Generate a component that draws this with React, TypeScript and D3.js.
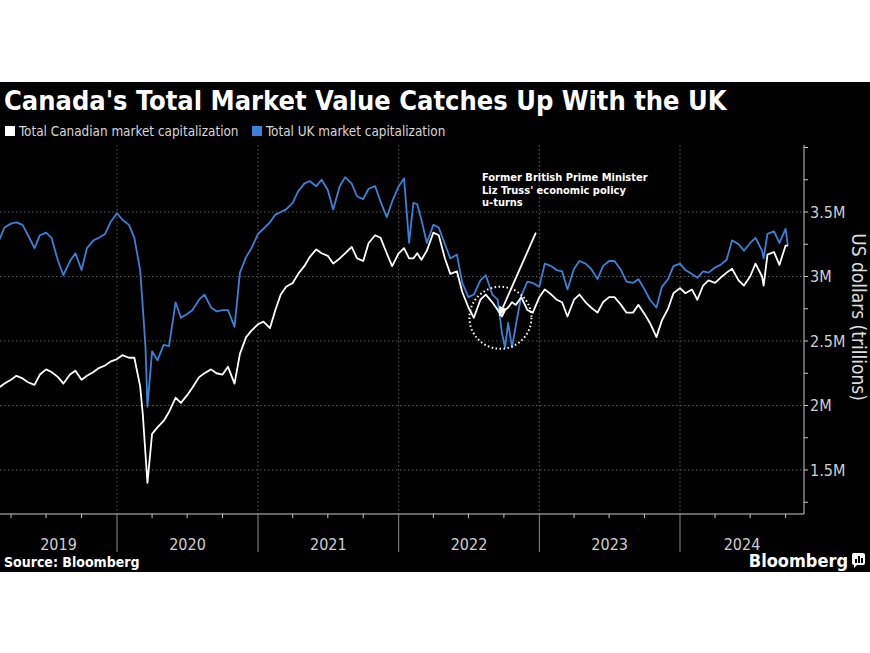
import { useEffect, useRef } from 'react';
import * as d3 from 'd3';

// semi-monthly sample dates, with a few extra days around sharp moves
const dates = [
  '2019-03-01', '2019-03-15', '2019-04-01', '2019-04-15', '2019-05-01', '2019-05-15', '2019-06-01', '2019-06-15',
  '2019-07-01', '2019-07-15', '2019-08-01', '2019-08-15', '2019-09-01', '2019-09-15', '2019-10-01', '2019-10-15',
  '2019-11-01', '2019-11-15', '2019-12-01', '2019-12-15',
  '2020-01-01', '2020-01-15', '2020-02-01', '2020-02-15', '2020-03-01', '2020-03-08', '2020-03-15', '2020-03-20',
  '2020-04-01', '2020-04-15', '2020-05-01', '2020-05-15', '2020-06-01', '2020-06-15', '2020-07-01', '2020-07-15',
  '2020-08-01', '2020-08-15', '2020-09-01', '2020-09-15', '2020-10-01', '2020-10-15', '2020-11-01', '2020-11-15',
  '2020-12-01', '2020-12-15',
  '2021-01-01', '2021-01-15', '2021-02-01', '2021-02-15', '2021-03-01', '2021-03-15', '2021-04-01', '2021-04-15',
  '2021-05-01', '2021-05-15', '2021-06-01', '2021-06-15', '2021-07-01', '2021-07-15', '2021-08-01', '2021-08-15',
  '2021-09-01', '2021-09-15', '2021-10-01', '2021-10-15', '2021-11-01', '2021-11-15', '2021-12-01', '2021-12-15',
  '2022-01-01', '2022-01-15', '2022-01-28', '2022-02-08', '2022-02-18', '2022-03-01', '2022-03-15', '2022-04-01',
  '2022-04-15', '2022-05-01', '2022-05-15', '2022-06-01', '2022-06-15', '2022-07-01', '2022-07-15', '2022-08-01',
  '2022-08-15', '2022-09-01', '2022-09-15', '2022-09-26', '2022-10-04', '2022-10-12', '2022-10-22', '2022-11-01',
  '2022-11-15', '2022-12-01', '2022-12-15',
  '2023-01-01', '2023-01-15', '2023-02-01', '2023-02-15', '2023-03-01', '2023-03-15', '2023-04-01', '2023-04-15',
  '2023-05-01', '2023-05-15', '2023-06-01', '2023-06-15', '2023-07-01', '2023-07-15', '2023-08-01', '2023-08-15',
  '2023-09-01', '2023-09-15', '2023-10-01', '2023-10-15', '2023-11-01', '2023-11-15', '2023-12-01', '2023-12-15',
  '2024-01-01', '2024-01-15', '2024-02-01', '2024-02-15', '2024-03-01', '2024-03-15', '2024-04-01', '2024-04-15',
  '2024-05-01', '2024-05-15', '2024-06-01', '2024-06-15', '2024-07-01', '2024-07-15', '2024-08-01', '2024-08-05',
  '2024-08-15', '2024-09-01', '2024-09-15', '2024-10-01', '2024-10-07'
];

// US$ trillions
const canadaCap = [
  2.14, 2.17, 2.2, 2.23, 2.21, 2.18, 2.16, 2.24, 2.28, 2.26, 2.22, 2.17, 2.24, 2.27, 2.2, 2.23, 2.26, 2.29, 2.31, 2.34,
  2.36, 2.39, 2.37, 2.37, 2.15, 1.93, 1.62, 1.4, 1.78, 1.83, 1.88, 1.95, 2.06, 2.02, 2.08, 2.14, 2.22, 2.25, 2.28, 2.25,
  2.24, 2.3, 2.17, 2.4, 2.53, 2.58,
  2.63, 2.65, 2.6, 2.74, 2.86, 2.92, 2.95, 3.02, 3.08, 3.15, 3.21, 3.18, 3.16, 3.1, 3.14, 3.18, 3.23, 3.14, 3.12, 3.26,
  3.32, 3.3, 3.18, 3.08,
  3.18, 3.22, 3.14, 3.14, 3.18, 3.13, 3.2, 3.34, 3.32, 3.14, 3.02, 3.04, 2.88, 2.76, 2.68, 2.82, 2.86, 2.8, 2.74, 2.69,
  2.74, 2.76, 2.8, 2.78, 2.84, 2.74, 2.72,
  2.84, 2.9, 2.86, 2.82, 2.8, 2.69, 2.82, 2.86, 2.8, 2.76, 2.72, 2.8, 2.84, 2.84, 2.78, 2.72, 2.72, 2.78, 2.71, 2.64,
  2.53, 2.66, 2.75, 2.87,
  2.91, 2.87, 2.9, 2.82, 2.93, 2.97, 2.95, 2.99, 3.03, 3.06, 2.97, 2.93, 3.0, 3.1, 3.0, 2.93, 3.17, 3.19, 3.09, 3.24, 3.24
];

const ukCap = [
  3.28, 3.38, 3.41, 3.42, 3.4, 3.32, 3.22, 3.32, 3.34, 3.3, 3.12, 3.01, 3.12, 3.18, 3.05, 3.22, 3.28, 3.3, 3.33, 3.42,
  3.49, 3.44, 3.4, 3.3, 3.05, 2.76, 2.45, 1.99, 2.42, 2.35, 2.47, 2.46, 2.8, 2.68, 2.71, 2.74, 2.82, 2.86, 2.76, 2.73,
  2.74, 2.74, 2.61, 3.03, 3.15, 3.22,
  3.33, 3.37, 3.42, 3.48, 3.5, 3.52, 3.57, 3.66, 3.72, 3.74, 3.7, 3.75, 3.67, 3.52, 3.7, 3.77, 3.72, 3.62, 3.6, 3.68,
  3.7, 3.58, 3.46, 3.58,
  3.7, 3.76, 3.26, 3.57, 3.56, 3.44, 3.26, 3.4, 3.38, 3.25, 3.14, 3.17, 2.95, 2.84, 2.86, 2.97, 3.01, 2.86, 2.82, 2.56,
  2.45, 2.64, 2.45, 2.62, 2.85, 2.96, 2.95,
  2.92, 3.1, 3.08, 3.05, 3.04, 2.9, 3.06, 3.12, 3.1, 3.06, 2.98, 3.08, 3.12, 3.12, 3.05, 2.96, 2.95, 2.98, 2.9, 2.82,
  2.76, 2.92, 2.98, 3.08,
  3.1, 3.05, 3.02, 2.99, 3.04, 3.03, 3.07, 3.09, 3.13, 3.28, 3.25, 3.2, 3.26, 3.3, 3.2, 3.14, 3.33, 3.35, 3.26, 3.37, 3.24
];

const yMajorTicks = [1.5, 2, 2.5, 3, 3.5];
const yMinorTicks = [1.25, 1.75, 2.25, 2.75, 3.25, 3.75, 4];
const years = [2019, 2020, 2021, 2022, 2023, 2024];

const titleText = "Canada's Total Market Value Catches Up With the UK";
const legendLabels = ['Total Canadian market capitalization', 'Total UK market capitalization'];
const annotationLines = ['Former British Prime Minister', "Liz Truss' economic policy", 'u-turns'];
const trussCircle = { date: '2022-09-22', value: 2.68 };
const arrowFrom = { date: '2022-12-23', value: 3.34 };
const arrowTo = { date: '2022-09-18', value: 2.69 };

const UK_BLUE = '#3a82d8';
const FONT = "'Liberation Sans Narrow', 'DejaVu Sans Condensed', 'Liberation Sans', sans-serif";

export default function App() {
  const svgRef = useRef<SVGSVGElement>(null);

  useEffect(() => {
    if (!svgRef.current) return;
    const svg = d3.select(svgRef.current);
    svg.selectAll('*').remove();

    const parse = d3.timeParse('%Y-%m-%d');
    const plotRight = 804;
    const plotTop = 145;
    const plotBottom = 514;

    const x = d3
      .scaleTime()
      .domain([new Date(2020, 0, 1), new Date(2024, 0, 1)])
      .range([117, 680]);
    const y = d3.scaleLinear().domain([1.5, 3.5]).range([470, 212]);

    // background
    svg.append('rect').attr('width', 870).attr('height', 653).attr('fill', '#fff');
    svg.append('rect').attr('y', 82).attr('width', 870).attr('height', 490).attr('fill', '#000');

    // title
    svg
      .append('text')
      .text(titleText)
      .attr('x', 4)
      .attr('y', 110)
      .attr('fill', '#fff')
      .attr('font-family', FONT)
      .attr('font-weight', 'bold')
      .attr('font-size', 27);

    // legend
    const legendX = [5, 252];
    const legendColors = ['#fff', UK_BLUE];
    legendLabels.forEach((label, i) => {
      svg
        .append('rect')
        .attr('x', legendX[i])
        .attr('y', 126)
        .attr('width', 10)
        .attr('height', 10)
        .attr('fill', legendColors[i]);
      svg
        .append('text')
        .text(label)
        .attr('x', legendX[i] + 14)
        .attr('y', 136)
        .attr('fill', '#d8d8d8')
        .attr('font-family', FONT)
        .attr('font-size', 13.4);
    });

    // grid
    const grid = svg
      .append('g')
      .attr('stroke', '#5a5a5a')
      .attr('stroke-width', 1)
      .attr('stroke-dasharray', '1.5 2.5');
    grid
      .selectAll('line.h')
      .data(yMajorTicks)
      .enter()
      .append('line')
      .attr('x1', 0)
      .attr('x2', plotRight)
      .attr('y1', (d) => y(d))
      .attr('y2', (d) => y(d));
    grid
      .selectAll('line.v')
      .data(years.slice(1))
      .enter()
      .append('line')
      .attr('x1', (d) => x(new Date(d, 0, 1)))
      .attr('x2', (d) => x(new Date(d, 0, 1)))
      .attr('y1', plotTop)
      .attr('y2', plotBottom);

    // series
    const rows = dates.map((d, i) => ({ date: parse(d)!, ca: canadaCap[i], uk: ukCap[i] }));
    const clipId = 'plot-clip';
    svg
      .append('clipPath')
      .attr('id', clipId)
      .append('rect')
      .attr('x', 0)
      .attr('y', plotTop)
      .attr('width', plotRight)
      .attr('height', plotBottom - plotTop);
    const lines = svg.append('g').attr('clip-path', `url(#${clipId})`);
    const ukLine = d3
      .line<(typeof rows)[number]>()
      .x((d) => x(d.date))
      .y((d) => y(d.uk));
    const caLine = d3
      .line<(typeof rows)[number]>()
      .x((d) => x(d.date))
      .y((d) => y(d.ca));
    lines
      .append('path')
      .attr('d', ukLine(rows))
      .attr('fill', 'none')
      .attr('stroke', UK_BLUE)
      .attr('stroke-width', 1.8)
      .attr('stroke-linejoin', 'round');
    lines
      .append('path')
      .attr('d', caLine(rows))
      .attr('fill', 'none')
      .attr('stroke', '#fff')
      .attr('stroke-width', 1.8)
      .attr('stroke-linejoin', 'round');

    // y axis
    const axisColor = '#c8c8c8';
    svg
      .append('line')
      .attr('x1', plotRight)
      .attr('x2', plotRight)
      .attr('y1', plotTop)
      .attr('y2', plotBottom)
      .attr('stroke', axisColor);
    svg
      .selectAll('line.ytick')
      .data([...yMajorTicks, ...yMinorTicks])
      .enter()
      .append('line')
      .attr('x1', plotRight)
      .attr('x2', plotRight + 4)
      .attr('y1', (d) => y(d))
      .attr('y2', (d) => y(d))
      .attr('stroke', axisColor);
    svg
      .selectAll('text.ylabel')
      .data(yMajorTicks)
      .enter()
      .append('text')
      .text((d) => `${d}M`)
      .attr('x', plotRight + 6)
      .attr('y', (d) => y(d))
      .attr('dy', '0.35em')
      .attr('fill', '#cfcfcf')
      .attr('font-family', FONT)
      .attr('font-size', 16);
    svg
      .append('text')
      .text('US dollars (trillions)')
      .attr('transform', `translate(852, 317) rotate(90)`)
      .attr('text-anchor', 'middle')
      .attr('fill', '#dcdcdc')
      .attr('font-family', FONT)
      .attr('font-size', 19);

    // x axis
    svg
      .append('line')
      .attr('x1', 0)
      .attr('x2', plotRight)
      .attr('y1', plotBottom)
      .attr('y2', plotBottom)
      .attr('stroke', axisColor);
    const quarters = d3.timeMonth.every(3)!.range(new Date(2019, 0, 1), new Date(2024, 11, 1));
    svg
      .selectAll('line.xtick')
      .data(quarters.filter((d) => d.getMonth() !== 0 && x(d) > 0 && x(d) < plotRight))
      .enter()
      .append('line')
      .attr('x1', (d) => x(d))
      .attr('x2', (d) => x(d))
      .attr('y1', plotBottom)
      .attr('y2', plotBottom + 4)
      .attr('stroke', axisColor);
    svg
      .selectAll('line.xsep')
      .data(years.slice(1))
      .enter()
      .append('line')
      .attr('x1', (d) => x(new Date(d, 0, 1)))
      .attr('x2', (d) => x(new Date(d, 0, 1)))
      .attr('y1', plotBottom)
      .attr('y2', 552)
      .attr('stroke', '#8a8a8a');
    svg
      .selectAll('text.year')
      .data(years)
      .enter()
      .append('text')
      .text((d) => d)
      .attr('x', (d) => {
        const a = Math.max(0, x(new Date(d, 0, 1)));
        const b = Math.min(plotRight, x(new Date(d + 1, 0, 1)));
        return (a + b) / 2;
      })
      .attr('y', 550)
      .attr('text-anchor', 'middle')
      .attr('fill', '#cfcfcf')
      .attr('font-family', FONT)
      .attr('font-size', 16);

    // annotation
    const cx = x(parse(trussCircle.date)!);
    const cy = y(trussCircle.value);
    svg
      .append('circle')
      .attr('cx', cx)
      .attr('cy', cy)
      .attr('r', 31)
      .attr('fill', 'none')
      .attr('stroke', '#fff')
      .attr('stroke-width', 2)
      .attr('stroke-dasharray', '1.5 2.5');
    const ax1 = x(parse(arrowFrom.date)!);
    const ay1 = y(arrowFrom.value);
    const ax2 = x(parse(arrowTo.date)!);
    const ay2 = y(arrowTo.value);
    const ang = Math.atan2(ay2 - ay1, ax2 - ax1);
    const headLen = 10;
    const headW = 4;
    const bx = ax2 - headLen * Math.cos(ang);
    const by = ay2 - headLen * Math.sin(ang);
    svg
      .append('line')
      .attr('x1', ax1)
      .attr('y1', ay1)
      .attr('x2', bx)
      .attr('y2', by)
      .attr('stroke', '#fff')
      .attr('stroke-width', 1.8);
    svg
      .append('path')
      .attr(
        'd',
        `M${ax2},${ay2}L${bx + headW * Math.sin(ang)},${by - headW * Math.cos(ang)}L${bx - headW * Math.sin(ang)},${
          by + headW * Math.cos(ang)
        }Z`
      )
      .attr('fill', '#fff');
    annotationLines.forEach((line, i) => {
      svg
        .append('text')
        .text(line)
        .attr('x', 482)
        .attr('y', 181 + i * 12.5)
        .attr('fill', '#fff')
        .attr('font-family', FONT)
        .attr('font-weight', 'bold')
        .attr('font-size', 11);
    });

    // footer
    svg
      .append('text')
      .text('Source: Bloomberg')
      .attr('x', 4)
      .attr('y', 567)
      .attr('fill', '#fff')
      .attr('font-family', FONT)
      .attr('font-weight', 'bold')
      .attr('font-size', 14);
    svg
      .append('text')
      .text('Bloomberg')
      .attr('x', 848)
      .attr('y', 567)
      .attr('text-anchor', 'end')
      .attr('fill', '#fff')
      .attr('font-family', FONT)
      .attr('font-weight', 'bold')
      .attr('font-size', 18);
    const logo = svg.append('g').attr('transform', 'translate(852, 553)');
    logo.append('rect').attr('width', 13).attr('height', 12).attr('rx', 2).attr('fill', '#fff');
    logo.append('path').attr('d', 'M2,11 L2,15 L6,11 Z').attr('fill', '#fff');
    [
      [3, 6, 2, 4],
      [6, 3, 2, 7],
      [9, 5, 2, 5]
    ].forEach(([bx0, by0, w, h]) => {
      logo.append('rect').attr('x', bx0).attr('y', by0).attr('width', w).attr('height', h).attr('fill', '#000');
    });
  }, []);

  return (
    <svg
      ref={svgRef}
      width={870}
      height={653}
      style={{ position: 'absolute', left: 0, top: 0, display: 'block' }}
    />
  );
}
